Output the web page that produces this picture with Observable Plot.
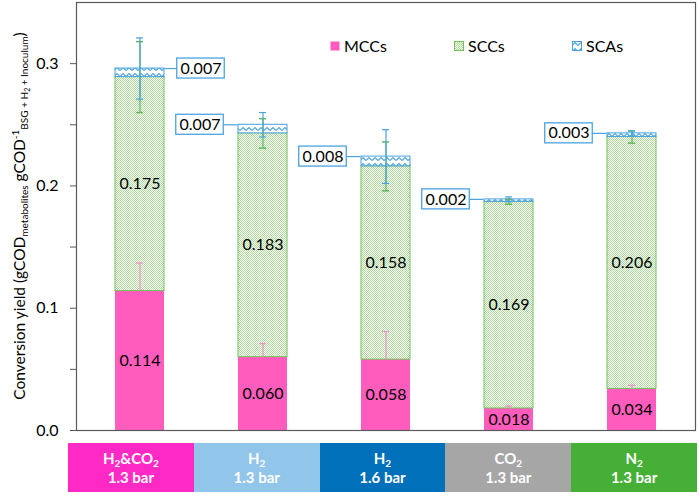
<!DOCTYPE html>
<html><head><meta charset="utf-8">
<script src="https://cdn.jsdelivr.net/npm/d3@7"></script>
<script src="https://cdn.jsdelivr.net/npm/@observablehq/plot@0.6"></script>
<style>
body{margin:0;background:#fff;font-family:Lato,"Open Sans",sans-serif;}
#wrap{position:relative;width:699px;height:500px;overflow:hidden;}
#legend{position:absolute;top:36px;left:0;width:699px;height:18px;font-size:16px;color:#000;}
#legend .item{position:absolute;display:flex;align-items:center;gap:4px;}
#legend .sw{width:10px;height:10px;display:block;}
#boxes{position:absolute;top:443px;left:68px;width:629px;height:49px;display:flex;}
#boxes .b{flex:1;color:#fff;font-weight:700;font-size:15px;line-height:19px;display:flex;flex-direction:column;justify-content:center;align-items:center;}
#boxes sub{font-size:10px;line-height:0;vertical-align:-3px;}
</style></head><body><div id="wrap"></div>
<script>
const categories = ["H2&CO2 1.3 bar","H2 1.3 bar","H2 1.6 bar","CO2 1.3 bar","N2 1.3 bar"];
const gases = ["H2&CO2","H2","H2","CO2","N2"];
const pressures = ["1.3 bar","1.3 bar","1.6 bar","1.3 bar","1.3 bar"];
const mccs = [0.114,0.060,0.058,0.018,0.034];
const sccs = [0.175,0.183,0.158,0.169,0.206];
const scas = [0.007,0.007,0.008,0.002,0.003];
const mccErr = [0.023,0.011,0.023,0.002,0.003];
const sccErr = [0.029,0.012,0.020,0.002,0.005];
const scaErr = [0.025,0.010,0.022,0.002,0.002];
const boxColors = ["#ff2ac6","#92c5ea","#0070bb","#a6a6a6","#45b035"];
const seriesNames = ["MCCs","SCCs","SCAs"];

const rows = categories.map((c,i)=>({
  cat:c, i, mcc:mccs[i], scc:sccs[i], sca:scas[i],
  sccTop:mccs[i]+sccs[i], total:mccs[i]+sccs[i]+scas[i],
  mccErr:mccErr[i], sccErr:sccErr[i], scaErr:scaErr[i]
}));
const rightSide = rows.filter(d=>d.i===0);
const leftSide = rows.filter(d=>d.i!==0);

const pink="#ff5cbd", green="#72c257", blue="#4aa3df";
const capInset = 21;

const plot = Plot.plot({
  width:699, height:440,
  marginLeft:76, marginRight:4, marginTop:2, marginBottom:10,
  style:{fontFamily:"Lato, sans-serif", fontSize:"15px", color:"#000", background:"#fff", overflow:"visible"},
  x:{domain:categories, paddingInner:0.6, paddingOuter:0.3, axis:null},
  y:{domain:[0,0.35]},
  marks:[
    Plot.axisY({ticks:[0,0.1,0.2,0.3], tickFormat:d3.format(".1f"), tickSize:6, tickPadding:12, stroke:"#595959", fontSize:16, label:null}),
    Plot.axisY({ticks:[0.05,0.15,0.25], tickFormat:()=>"", tickSize:6, stroke:"#595959", label:null}),
    Plot.barY(rows,{x:"cat", y1:0, y2:"mcc", fill:pink}),
    Plot.barY(rows,{x:"cat", y1:"mcc", y2:"sccTop", fill:"url(#sccPat)", stroke:green, strokeWidth:1}),
    Plot.barY(rows,{x:"cat", y1:"sccTop", y2:"total", fill:"url(#scaPat)", stroke:blue, strokeWidth:1}),
    // MCC error bars (upward)
    Plot.ruleX(rows,{x:"cat", y1:"mcc", y2:d=>d.mcc+d.mccErr, stroke:"#f38ccb", strokeWidth:1.2}),
    Plot.tickY(rows,{x:"cat", y:d=>d.mcc+d.mccErr, stroke:"#f38ccb", strokeWidth:1.2, insetLeft:capInset, insetRight:capInset}),
    // SCC error bars
    Plot.ruleX(rows,{x:"cat", y1:d=>d.sccTop-d.sccErr, y2:d=>d.sccTop+d.sccErr, stroke:"#5fb85a", strokeWidth:1.2}),
    Plot.tickY(rows,{x:"cat", y:d=>d.sccTop-d.sccErr, stroke:"#5fb85a", strokeWidth:1.5, insetLeft:capInset, insetRight:capInset}),
    Plot.tickY(rows,{x:"cat", y:d=>d.sccTop+d.sccErr, stroke:"#5fb85a", strokeWidth:1.5, insetLeft:capInset, insetRight:capInset}),
    // SCA error bars
    Plot.ruleX(rows,{x:"cat", y1:d=>d.total-d.scaErr, y2:d=>d.total+d.scaErr, stroke:blue, strokeWidth:1.2}),
    Plot.tickY(rows,{x:"cat", y:d=>d.total-d.scaErr, stroke:blue, strokeWidth:1.2, insetLeft:capInset, insetRight:capInset}),
    Plot.tickY(rows,{x:"cat", y:d=>d.total+d.scaErr, stroke:blue, strokeWidth:1.2, insetLeft:capInset, insetRight:capInset}),
    // value labels
    Plot.text(rows,{x:"cat", y:d=>d.mcc/2, text:d=>d.mcc.toFixed(3), fontSize:16, fill:"#000"}),
    Plot.text(rows,{x:"cat", y:d=>d.mcc+d.scc/2, text:d=>d.scc.toFixed(3), fontSize:16, fill:"#000"}),
    // SCA callouts
    Plot.tickY(leftSide,{x:"cat", y:"total", stroke:blue, strokeWidth:1.2, insetLeft:-14.25, insetRight:49.5}),
    Plot.tickY(rightSide,{x:"cat", y:"total", stroke:blue, strokeWidth:1.2, insetLeft:49.5, insetRight:-12.25}),
    Plot.barY(leftSide,{x:"cat", y1:"total", y2:"total", fill:"#fff", stroke:blue, strokeWidth:1.3, insetTop:-10, insetBottom:-10, insetLeft:-62.25, insetRight:63.75}),
    Plot.barY(rightSide,{x:"cat", y1:"total", y2:"total", fill:"#fff", stroke:blue, strokeWidth:1.3, insetTop:-10, insetBottom:-10, insetLeft:61.75, insetRight:-60.25}),
    Plot.text(leftSide,{x:"cat", y:"total", text:d=>d.sca.toFixed(3), dx:-63, fontSize:16, fill:"#000"}),
    Plot.text(rightSide,{x:"cat", y:"total", text:d=>d.sca.toFixed(3), dx:61, fontSize:16, fill:"#000"}),
    Plot.frame({stroke:"#595959", strokeWidth:1.2})
  ]
});

// patterns
const svg = d3.select(plot);
const defs = svg.insert("defs",":first-child");
const p1 = defs.append("pattern").attr("id","sccPat").attr("width",2).attr("height",2).attr("patternUnits","userSpaceOnUse");
p1.append("rect").attr("width",2).attr("height",2).attr("fill","#fff");
p1.append("rect").attr("width",1).attr("height",1).attr("fill","#acdb9c");
p1.append("rect").attr("x",1).attr("y",1).attr("width",1).attr("height",1).attr("fill","#acdb9c");
const p2 = defs.append("pattern").attr("id","scaPat").attr("width",6).attr("height",6).attr("patternUnits","userSpaceOnUse");
p2.append("rect").attr("width",6).attr("height",6).attr("fill","#fff");
p2.append("path").attr("d","M0,4.5 L3,1.5 L6,4.5").attr("fill","none").attr("stroke",blue).attr("stroke-width",1.1);

// y-axis title with sub/superscripts
const t = svg.append("text").attr("transform","translate(25,216) rotate(-90)").attr("text-anchor","middle")
  .style("font-size","15.5px").attr("fill","#000");
t.append("tspan").text("Conversion yield (gCOD");
t.append("tspan").attr("font-size","10px").attr("dy",3).text("metabolites");
t.append("tspan").attr("dy",-3).text(" gCOD");
t.append("tspan").attr("font-size","10px").attr("dy",-6).text("-1");
t.append("tspan").attr("font-size","10px").attr("dy",9).text("BSG + H");
t.append("tspan").attr("font-size","7px").attr("dy",2).text("2");
t.append("tspan").attr("font-size","10px").attr("dy",-2).text(" + Inoculum");
t.append("tspan").attr("dy",-3).text(")");

const wrap = document.getElementById("wrap");
wrap.appendChild(plot);

// legend
const legend = document.createElement("div");
legend.id = "legend";
const legendLeft = [330,454,572];
const swatchFill = [pink,"url(#sccPat)","url(#scaPat)"];
const swatchStroke = ["none",green,blue];
seriesNames.forEach((n,i)=>{
  const it = document.createElement("div");
  it.className="item"; it.style.left = legendLeft[i]+"px";
  it.innerHTML = `<svg class="sw" width="10" height="10"><rect x="0.5" y="0.5" width="9" height="9" fill="${swatchFill[i]}" stroke="${swatchStroke[i]}"/></svg><span>${n}</span>`;
  legend.appendChild(it);
});
wrap.appendChild(legend);

// category boxes below the chart
const boxes = document.createElement("div");
boxes.id="boxes";
gases.forEach((g,i)=>{
  const b = document.createElement("div");
  b.className="b"; b.style.background = boxColors[i];
  b.innerHTML = `<div>${g.replace(/&/g,"&amp;").replace(/(\d)/g,"<sub>$1</sub>")}</div><div>${pressures[i]}</div>`;
  boxes.appendChild(b);
});
wrap.appendChild(boxes);
</script></body></html>
